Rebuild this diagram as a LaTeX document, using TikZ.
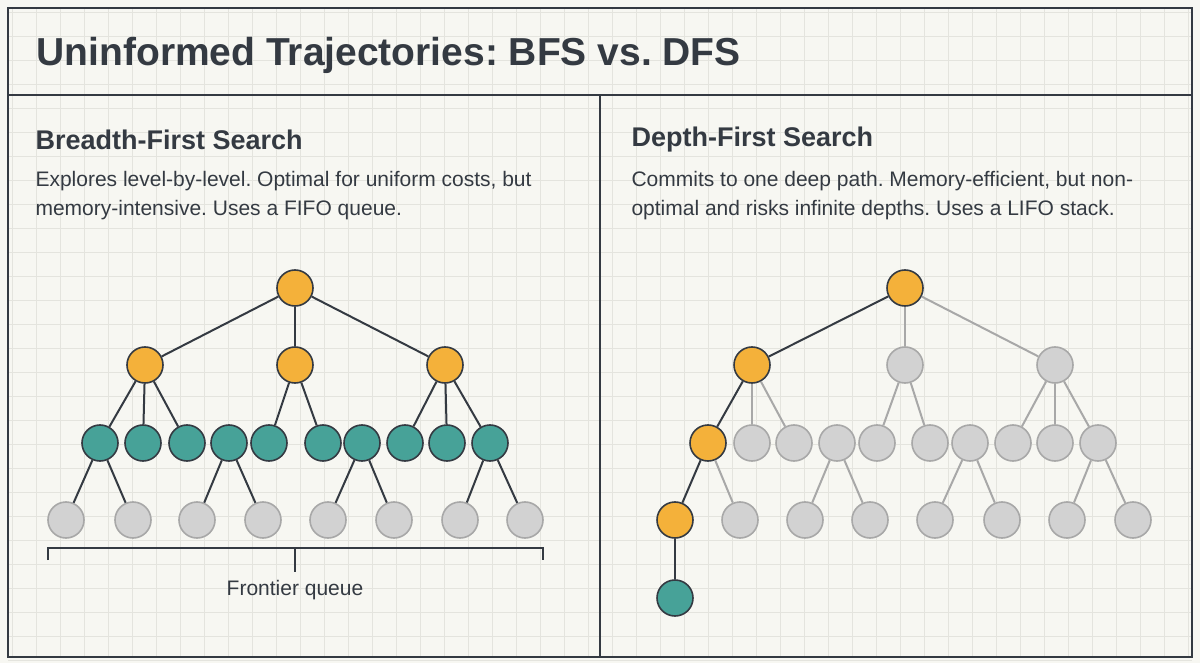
\documentclass[tikz,border=0pt]{standalone}
\usepackage{fontspec}
\setmainfont{Liberation Sans}
\frenchspacing
\definecolor{paper}{HTML}{F7F7F2}
\definecolor{gridc}{HTML}{E4E4DE}
\definecolor{ink}{HTML}{343A42}
\definecolor{orng}{HTML}{F4B13A}
\definecolor{teal}{HTML}{47A298}
\definecolor{gry}{HTML}{D2D2D2}
\definecolor{gryline}{HTML}{A8A8A8}
\tikzset{
  vis/.style={circle,draw=ink,line width=1.6pt,minimum size=36pt,inner sep=0pt,fill=orng},
  front/.style={vis,fill=teal},
  unseen/.style={vis,fill=gry,draw=gryline},
  edge/.style={draw=ink,line width=2pt},
  faint/.style={draw=gryline,line width=2pt},
}
\begin{document}
\begin{tikzpicture}[x=1pt,y=-1pt]
	\fill[paper] (0,0) rectangle (1200,663);
	\useasboundingbox (0,0) rectangle (1200,663);
	\foreach \x in {12,36,...,1200} {\draw[gridc,line width=.6pt] (\x,8) -- (\x,657);}
	\foreach \y in {12,36,...,663} {\draw[gridc,line width=.6pt] (8,\y) -- (1192,\y);}
	% frame
	\draw[ink,line width=2pt] (8,8) rectangle (1192,657);
	\draw[ink,line width=2pt] (8,95) -- (1192,95);
	\draw[ink,line width=2pt] (600,95) -- (600,657);
	\node[anchor=west,font=\fontsize{39}{44}\selectfont\bfseries,text=ink] (title) at (33,55) {Uninformed Trajectories: BFS vs. DFS};
	% BFS
	\node[anchor=west,font=\fontsize{27}{32}\selectfont\bfseries,text=ink] (bfsh) at (32,140) {Breadth-First Search};
	\node[anchor=north west,align=left,font=\fontsize{21}{29}\selectfont,text=ink] (bfst) at (32,168)
		{Explores level-by-level. Optimal for uniform costs, but\\memory-intensive. Uses a FIFO queue.};
	\node[vis] (r) at (295,288) {};
	\node[vis] (a) at (145,365) {};
	\node[vis] (b) at (295,365) {};
	\node[vis] (c) at (445,365) {};
	\foreach \n/\x in {1/100,2/143,3/187,4/229,5/269,6/323,7/362,8/405,9/447,10/490}
		\node[front] (t\n) at (\x,443) {};
	\foreach \n/\x in {1/66,2/133,3/197,4/263,5/328,6/394,7/460,8/525}
		\node[unseen] (g\n) at (\x,520) {};
	\foreach \u/\v in {r/a,r/b,r/c,a/t1,a/t2,a/t3,b/t5,b/t6,c/t8,c/t9,c/t10,
		t1/g1,t1/g2,t4/g3,t4/g4,t7/g5,t7/g6,t10/g7,t10/g8}
		\draw[edge] (\u) -- (\v);
	% frontier bracket
	\coordinate (bl) at (48,560);
	\coordinate (br) at (543,560);
	\coordinate (bm) at (295,572);
	\draw[ink,line width=1.6pt] (bl) -- ++(0,-12) -- (543,548) -- (br);
	\draw[ink,line width=1.6pt] (295,548) -- (bm);
	\node[anchor=north,font=\fontsize{21}{24}\selectfont,text=ink,yshift=-5pt] (fq) at (bm) {Frontier queue};
	% DFS
	\node[anchor=west,font=\fontsize{27}{32}\selectfont\bfseries,text=ink] (dfsh) at (628,140) {Depth-First Search};
	\node[anchor=north west,align=left,font=\fontsize{21}{29}\selectfont,text=ink] (dfst) at (628,168)
		{Commits to one deep path. Memory-efficient, but non-\\optimal and risks infinite depths. Uses a LIFO stack.};
	\node[vis] (R) at (905,288) {};
	\node[vis] (A) at (752,365) {};
	\node[unseen] (B) at (905,365) {};
	\node[unseen] (C) at (1055,365) {};
	\node[vis] (T1) at (708,443) {};
	\foreach \n/\x in {2/752,3/794,4/837,5/877,6/930,7/970,8/1013,9/1055,10/1098}
		\node[unseen] (T\n) at (\x,443) {};
	\node[vis] (G1) at (675,520) {};
	\foreach \n/\x in {2/740,3/805,4/870,5/935,6/1002,7/1067,8/1133}
		\node[unseen] (G\n) at (\x,520) {};
	\node[front] (D) at (675,598) {};
	\foreach \u/\v in {R/B,R/C,A/T2,A/T3,B/T5,B/T6,C/T8,C/T9,C/T10,
		T1/G2,T4/G3,T4/G4,T7/G5,T7/G6,T10/G7,T10/G8}
		\draw[faint] (\u) -- (\v);
	\foreach \u/\v in {R/A,A/T1,T1/G1,G1/D}
		\draw[edge] (\u) -- (\v);
\end{tikzpicture}
\end{document}
